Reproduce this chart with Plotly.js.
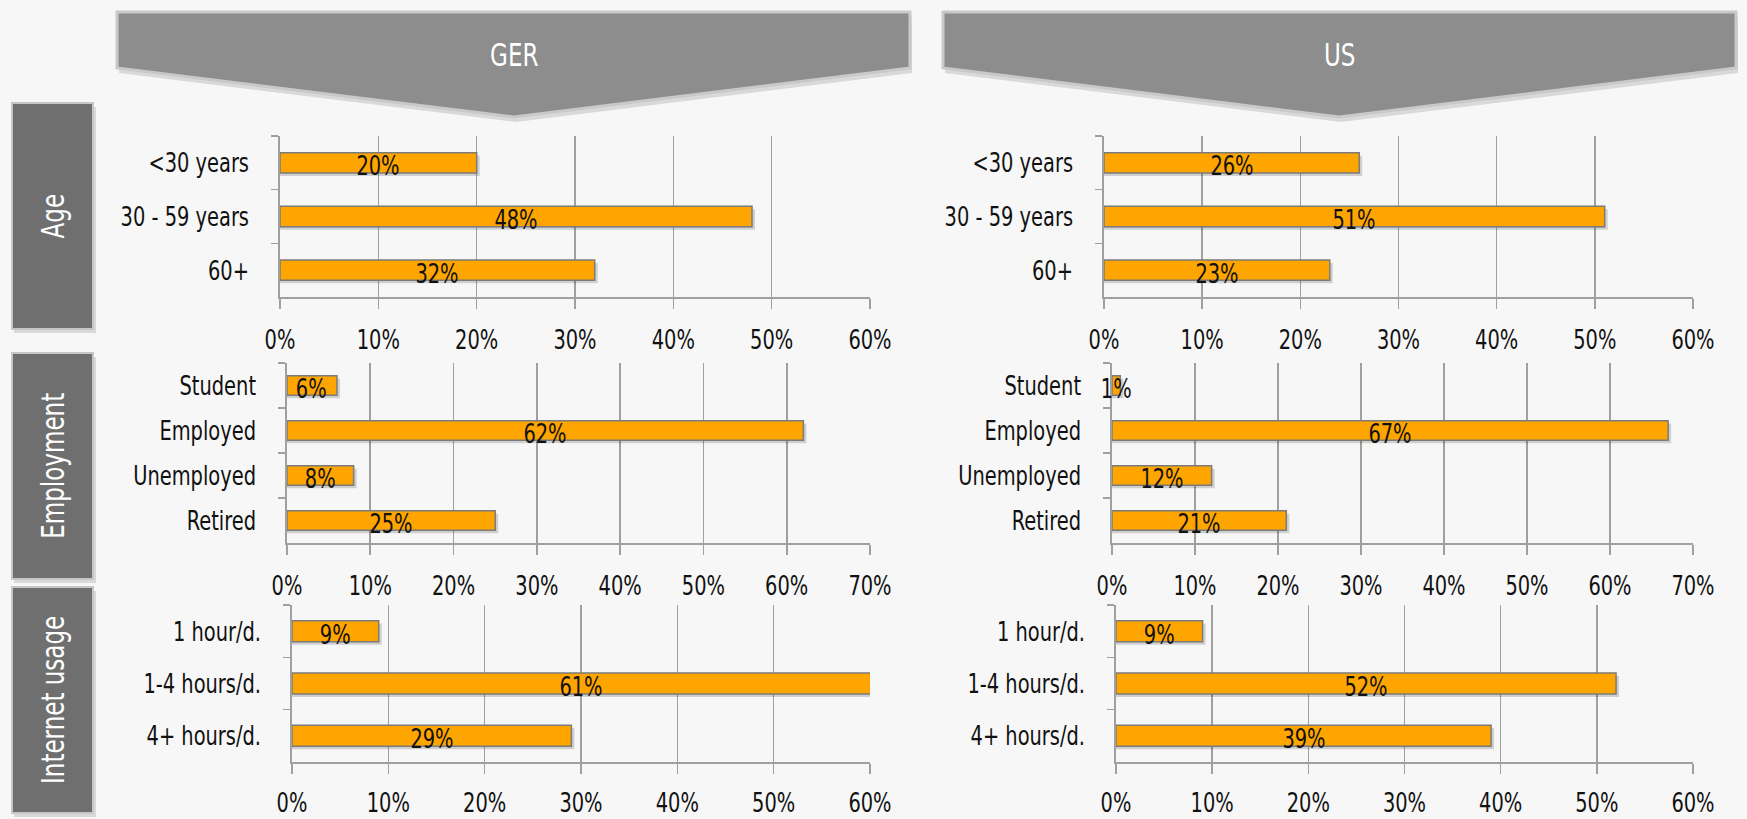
<!DOCTYPE html>
<html>
<head>
<meta charset="utf-8">
<script src="https://cdn.plot.ly/plotly-3.0.1.min.js"></script>
<style>
html,body{margin:0;padding:0;background:#f7f7f7;}
#chart{width:1747px;height:819px;}
</style>
</head>
<body>
<div id="chart"></div>
<script>
// ---- data ----
const countries = ["GER", "US"];
const groups = ["Age", "Employment", "Internet usage"];

const ageCategories = ["<30 years", "30 - 59 years", "60+"];
const ageGER = [20, 48, 32];
const ageUS = [26, 51, 23];

const empCategories = ["Student", "Employed", "Unemployed", "Retired"];
const empGER = [6, 62, 8, 25];
const empUS = [1, 67, 12, 21];

const netCategories = ["1 hour/d.", "1-4 hours/d.", "4+ hours/d."];
const netGER = [9, 61, 29];
const netUS = [9, 52, 39];

const ageTicks = [0, 10, 20, 30, 40, 50, 60];
const empTicks = [0, 10, 20, 30, 40, 50, 60, 70];
const netTicks = [0, 10, 20, 30, 40, 50, 60];

// ---- layout helpers ----
const W = 1747, H = 819;
const px = v => v / W;
const py = v => 1 - v / H;
const FONT = '"DejaVu Sans Condensed", "Liberation Sans Narrow", "DejaVu Sans", sans-serif';
const GRID = '#a0a0a0';
const SQUEEZE = 0.8;   // horizontal condensing of all text (reference uses a narrow face)

const panels = [
  {cats: ageCategories, vals: ageGER, ticks: ageTicks, x: [280, 870], y: [136, 297], w: 0.38, so: 8},
  {cats: ageCategories, vals: ageUS, ticks: ageTicks, x: [1104, 1693], y: [136, 297], w: 0.38, so: 8},
  {cats: empCategories, vals: empGER, ticks: empTicks, x: [287, 870], y: [363, 543], w: 0.43, so: 8},
  {cats: empCategories, vals: empUS, ticks: empTicks, x: [1112, 1693], y: [363, 543], w: 0.43, so: 8},
  {cats: netCategories, vals: netGER, ticks: netTicks, x: [292, 870], y: [605, 762], w: 0.40, so: 6},
  {cats: netCategories, vals: netUS, ticks: netTicks, x: [1116, 1693], y: [605, 762], w: 0.40, so: 6}
];

const traces = [];
const annotations = [];
const shapes = [];
const layout = {
  width: W, height: H,
  margin: {l: 0, r: 0, t: 0, b: 0},
  paper_bgcolor: '#f7f7f7',
  plot_bgcolor: 'rgba(0,0,0,0)',
  showlegend: false,
  barmode: 'overlay',
  font: {family: FONT, size: 27, color: '#111'}
};

panels.forEach((p, i) => {
  const n = i === 0 ? '' : String(i + 1);
  const xa = 'x' + n, ya = 'y' + n;
  const maxT = p.ticks[p.ticks.length - 1];
  const bandPx = (p.y[1] - p.y[0]) / p.cats.length;
  const unitPx = (p.x[1] - p.x[0]) / maxT;
  // soft drop shadow behind each bar
  traces.push({
    type: 'bar', orientation: 'h',
    x: p.vals.map(v => v + 3 / unitPx), y: p.cats,
    width: p.cats.map(() => p.w),
    offset: p.cats.map(() => -p.w / 2 + 3 / bandPx),
    xaxis: xa, yaxis: ya,
    marker: {color: 'rgba(0,0,0,0.16)', line: {width: 0}},
    hoverinfo: 'skip'
  });
  traces.push({
    type: 'bar', orientation: 'h',
    x: p.vals, y: p.cats,
    width: p.cats.map(() => p.w),
    xaxis: xa, yaxis: ya,
    marker: {color: '#ffa500', line: {color: '#7b7b7b', width: 1.5}},
    hoverinfo: 'x+y'
  });
  layout['xaxis' + n] = {
    domain: [px(p.x[0]), px(p.x[1])],
    anchor: ya,
    range: [0, maxT],
    tickmode: 'array',
    tickvals: p.ticks,
    ticktext: p.ticks.map(t => t + '%'),
    showgrid: true, gridcolor: GRID, gridwidth: 1.6,
    zeroline: false,
    showline: true, linecolor: GRID, linewidth: 1.6,
    ticks: 'outside', ticklen: 10, tickcolor: GRID, tickwidth: 1.6,
    ticklabelstandoff: p.so,
    tickfont: {family: FONT, size: 27, color: '#111'},
    fixedrange: true
  };
  layout['yaxis' + n] = {
    domain: [py(p.y[1]), py(p.y[0])],
    anchor: xa,
    type: 'category',
    autorange: 'reversed',
    showgrid: false,
    zeroline: false,
    showline: true, linecolor: GRID, linewidth: 1.6,
    ticks: 'outside', tickson: 'boundaries', ticklen: 7, tickcolor: GRID, tickwidth: 1.6,
    ticklabelstandoff: 24,
    tickfont: {family: FONT, size: 27, color: '#111'},
    fixedrange: true
  };
  p.vals.forEach((v, k) => {
    annotations.push({
      xref: xa, yref: ya, x: Math.min(v, maxT) / 2, y: p.cats[k],
      text: v + '%', showarrow: false, yshift: -3,
      font: {family: FONT, size: 27, color: '#111'}
    });
  });
});

// banners (country headers)
function poly(pts) {
  return 'M' + pts.map(q => px(q[0]) + ',' + py(q[1])).join(' L') + ' Z';
}
const banners = [
  {label: countries[0], l: 117, r: 910, tip: 514},
  {label: countries[1], l: 943, r: 1736, tip: 1339}
];
banners.forEach(b => {
  const pts = [[b.l, 12], [b.r, 12], [b.r, 68], [b.tip, 117], [b.l, 68]];
  const sh = pts.map(q => [q[0] + 2, q[1] + 5]);
  shapes.push({type: 'path', xref: 'paper', yref: 'paper', path: poly(sh),
    fillcolor: 'rgba(0,0,0,0.12)', line: {width: 0}, layer: 'below'});
  shapes.push({type: 'path', xref: 'paper', yref: 'paper', path: poly(pts),
    fillcolor: '#8d8d8d', line: {color: '#c9c9c9', width: 3}, layer: 'below'});
  annotations.push({xref: 'paper', yref: 'paper', x: px(b.tip), y: py(55),
    text: b.label, showarrow: false, xanchor: 'center', yanchor: 'middle',
    font: {family: FONT, size: 32, color: '#ffffff'}});
});

// left group boxes
const boxes = [
  {label: groups[0], t: 103, b: 329},
  {label: groups[1], t: 353, b: 579},
  {label: groups[2], t: 587, b: 813}
];
boxes.forEach(b => {
  shapes.push({type: 'rect', xref: 'paper', yref: 'paper',
    x0: px(14), x1: px(96), y0: py(b.b + 4), y1: py(b.t + 4),
    fillcolor: 'rgba(0,0,0,0.12)', line: {width: 0}, layer: 'below'});
  shapes.push({type: 'rect', xref: 'paper', yref: 'paper',
    x0: px(12), x1: px(93), y0: py(b.b), y1: py(b.t),
    fillcolor: '#6f6f6f', line: {color: '#c6c6c6', width: 2}, layer: 'below'});
  annotations.push({xref: 'paper', yref: 'paper', x: px(53), y: py((b.t + b.b) / 2),
    text: b.label, showarrow: false, textangle: -90, xanchor: 'center', yanchor: 'middle',
    font: {family: FONT, size: 32, color: '#ffffff'}});
});

layout.annotations = annotations;
layout.shapes = shapes;

function condense(gd) {
  gd.querySelectorAll('svg text').forEach(t => {
    if (t.getAttribute('data-cond')) return;
    const x = parseFloat(t.getAttribute('x')) || 0;
    const y = parseFloat(t.getAttribute('y')) || 0;
    const tr = t.getAttribute('transform') || '';
    t.setAttribute('transform', tr + ' translate(' + x + ',' + y + ') scale(' + SQUEEZE + ',1) translate(' + (-x) + ',' + (-y) + ')');
    t.setAttribute('data-cond', '1');
  });
}

const gd = document.getElementById('chart');
Plotly.newPlot(gd, traces, layout, {displayModeBar: false, staticPlot: true}).then(() => condense(gd));
</script>
</body>
</html>
